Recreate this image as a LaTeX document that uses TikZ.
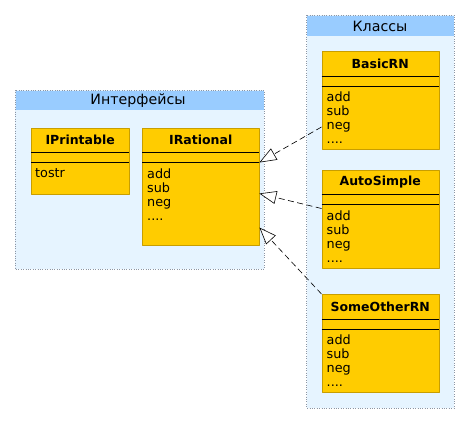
\documentclass[tikz,border=0pt]{standalone}
\usepackage{fontspec}
\setmainfont{DejaVu Sans}
\usetikzlibrary{arrows.meta}

\definecolor{pkgbody}{RGB}{230,244,255}
\definecolor{pkghead}{RGB}{153,204,255}
\definecolor{pkgline}{RGB}{140,150,165}
\definecolor{clsfill}{RGB}{255,204,0}
\definecolor{clsedge}{RGB}{200,158,0}

\tikzset{
    pkg/.style={draw=pkgline, dotted, fill=pkgbody},
    pkghead/.style={fill=pkghead},
    pkgtitle/.style={font=\fontsize{14.2}{16}\selectfont},
    cls/.style={draw=clsedge, fill=clsfill, anchor=north west, minimum width=117pt, inner sep=0pt},
    clstitle/.style={font=\bfseries\fontsize{12.5}{14}\selectfont},
    ops/.style={anchor=north west, align=left, inner sep=0pt, font=\fontsize{12.8}{14}\selectfont},
    realize/.style={dashed, dash pattern=on 6pt off 3.5pt, line width=0.6pt, -{Triangle[open, length=17pt, width=13pt, fill=white]}}
}

\begin{document}
\begin{tikzpicture}[x=1pt, y=-1pt, line join = round]
    \useasboundingbox (0,0) rectangle (470,424);

    % packages
    \draw[pkg] (15,90) rectangle (264,269);
    \fill[pkghead] (15.5,90.5) rectangle (263.5,110);
    \draw[pkg, fill=none] (15,90) rectangle (264,269);
    \node[pkgtitle] (pI) at (138,100.5) {Интерфейсы};

    \draw[pkg] (306.5,15) rectangle (454,408);
    \fill[pkghead] (307,15.5) rectangle (453.5,36);
    \draw[pkg, fill=none] (306.5,15) rectangle (454,408);
    \node[pkgtitle] (pK) at (380,26) {Классы};

    % interfaces
    \node[cls, minimum width=98pt, minimum height=66pt] (IPrintable) at (31,127.5) {};
    \node[cls, minimum height=117pt] (IRational) at (142,127.5) {};

    % classes
    \node[cls, minimum height=98pt] (BasicRN) at (321.5,51) {};
    \node[cls, minimum height=98pt] (AutoSimple) at (321.5,169.5) {};
    \node[cls, minimum height=98pt] (SomeOtherRN) at (321.5,294) {};

    \foreach \c/\t in {IPrintable/IPrintable, IRational/IRational, BasicRN/BasicRN, AutoSimple/AutoSimple, SomeOtherRN/SomeOtherRN}
    {
        \node[clstitle] (\c-title) at ([yshift=-12.5pt]\c.north) {\t};
        \draw ([yshift=-25pt]\c.north west) -- ([yshift=-25pt]\c.north east);
        \draw ([yshift=-35pt]\c.north west) -- ([yshift=-35pt]\c.north east);
    }

    \node[ops] (IPrintable-ops) at ([xshift=4pt, yshift=-41pt]IPrintable.north west) {tostr};
    \foreach \c in {IRational, BasicRN, AutoSimple, SomeOtherRN}
        \node[ops] (\c-ops) at ([xshift=5pt, yshift=-41pt]\c.north west) {add\\sub\\neg\\....};

    % realizations
    \draw[realize] ([yshift=-76pt]BasicRN.north west) -- ([yshift=-35pt]IRational.north east);
    \draw[realize] ([yshift=-39pt]AutoSimple.north west) -- ([yshift=-66pt]IRational.north east);
    \draw[realize] (SomeOtherRN.north west) -- ([yshift=-100pt]IRational.north east);
\end{tikzpicture}
\end{document}
